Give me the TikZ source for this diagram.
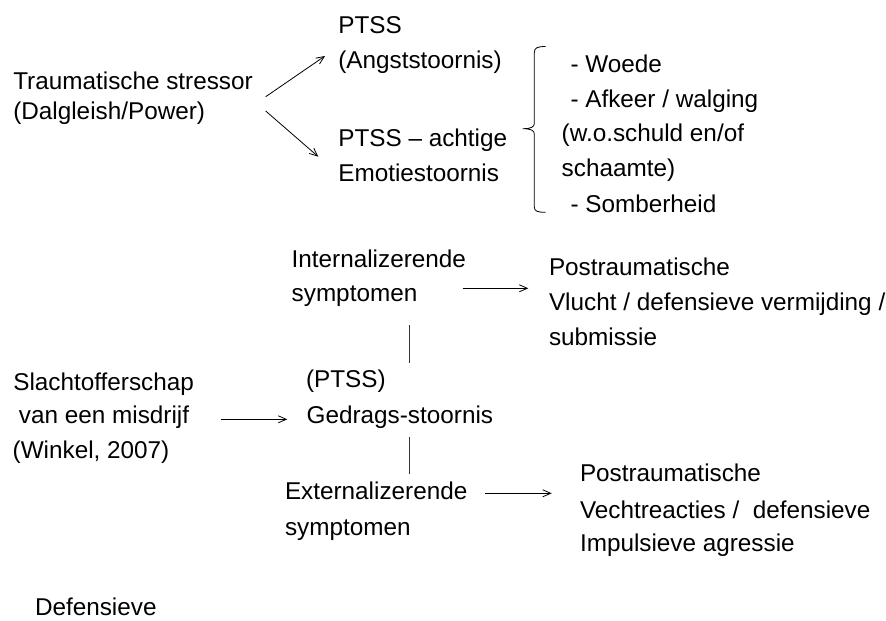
\documentclass[tikz,border=0pt]{standalone}
\usepackage{fontspec}
\setmainfont{Liberation Sans}
\usetikzlibrary{arrows.meta}
\tikzset{
  txt/.style={anchor=base west, inner sep=0pt, outer sep=0pt, font=\fontsize{24.3}{28}\selectfont},
  arr/.style={line width=0.8pt, -{Straight Barb[length=8pt,width=7pt,line width=0.8pt]}},
  vbar/.style={line width=0.7pt, draw=black!80},
  bracestyle/.style={line width=0.8pt}
}
\begin{document}
\begin{tikzpicture}[x=1pt,y=-1pt]
\useasboundingbox (0,0) rectangle (886,621);
% left top block
\node[txt] (tr1) at (13.3,89.3) {Traumatische stressor};
\node[txt] (tr2) at (13.3,119.3) {(Dalgleish/Power)};
% PTSS blocks
\node[txt] (pa1) at (338.3,33.8) {PTSS};
\node[txt] (pa2) at (338.3,68.3) {(Angststoornis)};
\node[txt] (pb1) at (338.3,146.5) {PTSS – achtige};
\node[txt] (pb2) at (338.3,181.5) {Emotiestoornis};
% list
\node[txt] (l1) at (570.5,72.5) {- Woede};
\node[txt] (l2) at (570.5,107.3) {- Afkeer / walging};
\node[txt] (l3) at (561.7,141.7) {(w.o.schuld en/of};
\node[txt] (l4) at (561.7,176.5) {schaamte)};
\node[txt] (l5) at (570.5,212.5) {- Somberheid};
% brace
\draw[bracestyle] (545.7,46.5) .. controls (538,46.5) and (534.3,47.5) .. (534.3,52.5)
  -- (534.3,123.5) .. controls (534.3,127) and (531,128.7) .. (522.7,128.7)
  .. controls (531,128.7) and (534.3,130.5) .. (534.3,134)
  -- (534.3,207) .. controls (534.3,211.5) and (538,212.3) .. (545.7,212.3);
% arrows top
\coordinate (u1) at (265.7,96.7);
\coordinate (u2) at (325,56);
\coordinate (d1) at (265.7,111);
\coordinate (d2) at (318.3,156.7);
\draw[arr] (u1) -- (u2);
\draw[arr] (d1) -- (d2);
% middle part
\node[txt] (in1) at (291.7,267.3) {Internalizerende};
\node[txt] (in2) at (291.7,301.7) {symptomen};
\node[txt] (po1) at (549,275.7) {Postraumatische};
\node[txt] (po2) at (549,310) {Vlucht / defensieve vermijding /};
\node[txt] (po3) at (549,345) {submissie};
\coordinate (ia1) at (462.7,288.3);
\coordinate (ia2) at (528.3,288.3);
\draw[arr] (ia1) -- (ia2);
\coordinate (v1a) at (409.3,325);
\coordinate (v1b) at (409.3,362.7);
\draw[vbar] (v1a) -- (v1b);
\node[txt] (g1) at (306,387) {(PTSS)};
\node[txt] (g2) at (306.7,423) {Gedrags-stoornis};
\node[txt] (s1) at (13.3,390) {Slachtofferschap};
\node[txt] (s2) at (19,423) {van een misdrijf};
\node[txt] (s3) at (12.7,458) {(Winkel, 2007)};
\coordinate (sa1) at (220.7,419.3);
\coordinate (sa2) at (287.3,419.3);
\draw[arr] (sa1) -- (sa2);
\coordinate (v2a) at (409.3,436.7);
\coordinate (v2b) at (409.3,474.3);
\draw[vbar] (v2a) -- (v2b);
\node[txt] (ex1) at (285,499.3) {Externalizerende};
\node[txt] (ex2) at (285,535) {symptomen};
\coordinate (ea1) at (485,493.3);
\coordinate (ea2) at (551.7,493.3);
\draw[arr] (ea1) -- (ea2);
\node[txt] (pq1) at (580,481.7) {Postraumatische};
\node[txt] (pq2) at (580,518.3) {Vechtreacties /\ \ defensieve};
\node[txt] (pq3) at (580,551.7) {Impulsieve agressie};
\node[txt] (def) at (35,615) {Defensieve};
\end{tikzpicture}
\end{document}
